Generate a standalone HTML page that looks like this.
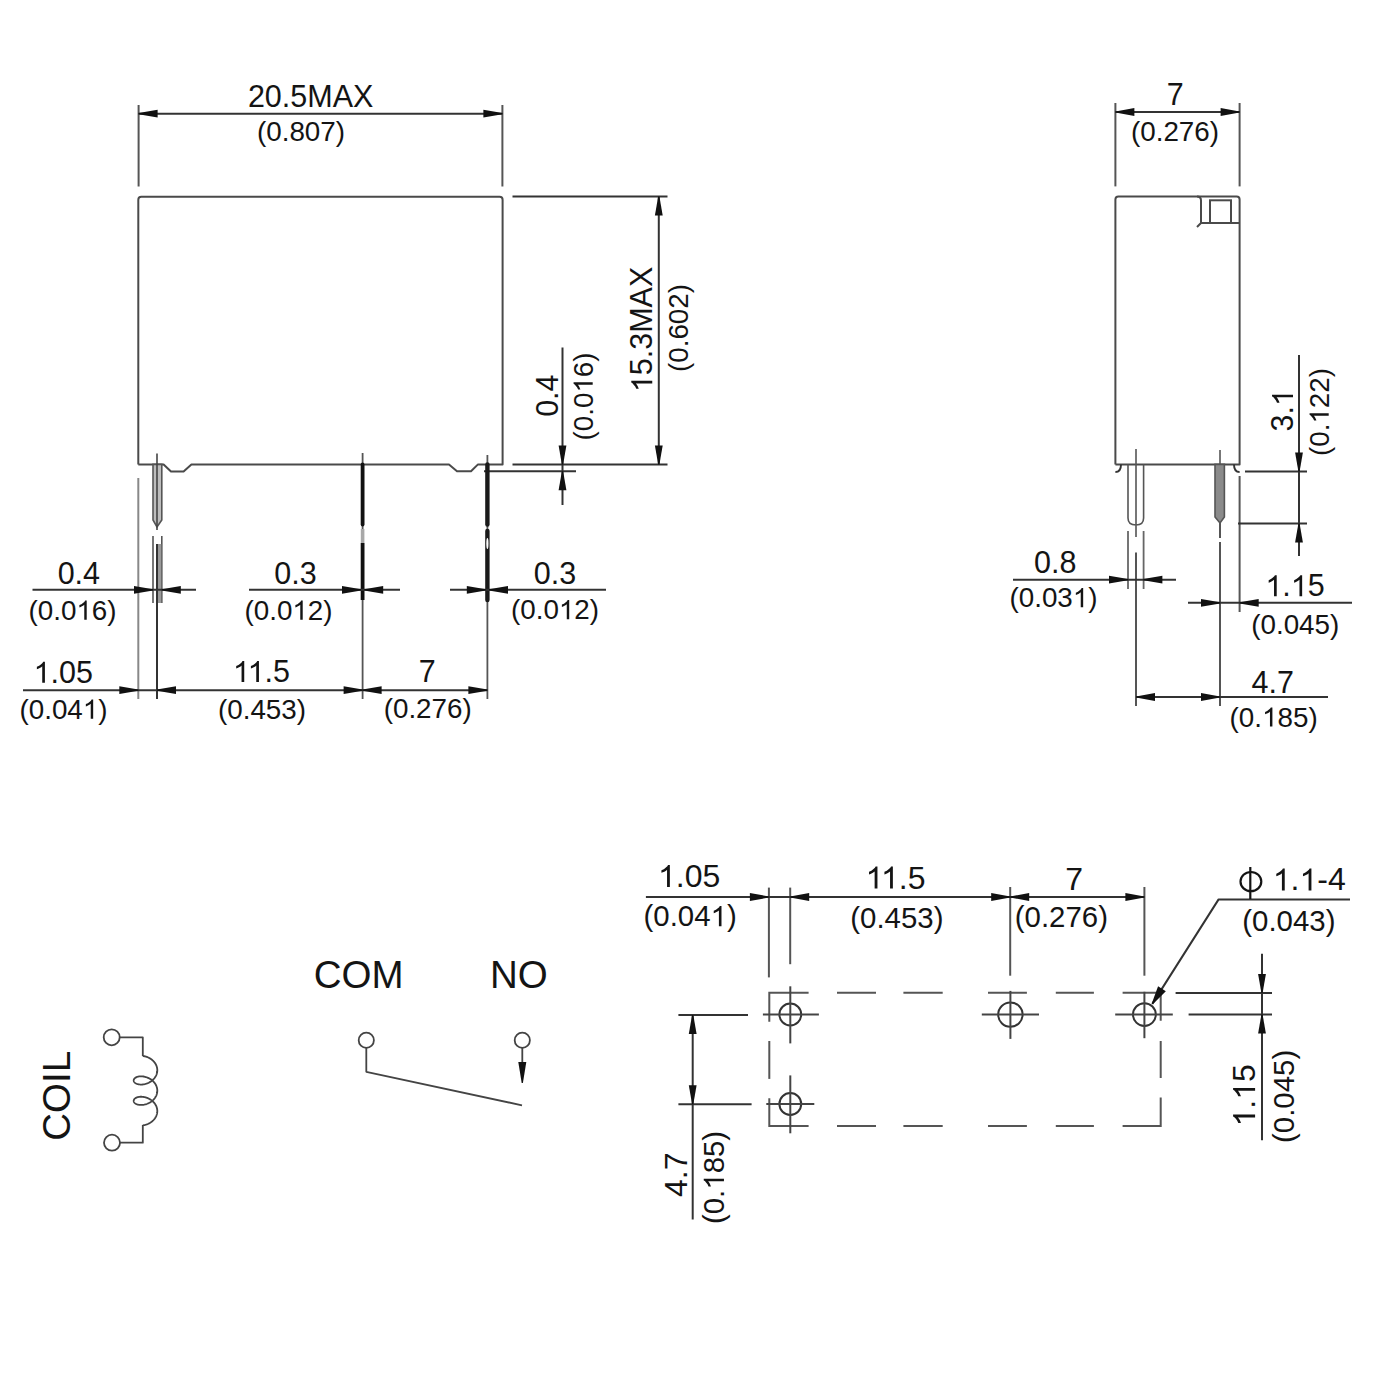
<!DOCTYPE html>
<html><head><meta charset="utf-8"><style>
html,body{margin:0;padding:0;background:#fff;}
svg{display:block;}
text{font-family:"Liberation Sans",sans-serif;fill:#141414;}
</style></head><body>
<svg width="1400" height="1400" viewBox="0 0 1400 1400">
<rect width="1400" height="1400" fill="#fff"/>
<path d="M138.3 464.4 L138.3 199.8 Q138.3 196.8 141.3 196.8 L499.6 196.8 Q502.6 196.8 502.6 199.8 L502.6 464.4 L478 464.4 L471 471.2 L457 471.2 L449 464.4 L191.4 464.4 L183.6 471.4 L171 471.4 L163.6 464.4 L138.3 464.4" stroke="#4a4a4a" stroke-width="2" fill="none" stroke-linejoin="round"/>
<line x1="138.6" y1="105" x2="138.6" y2="186.5" stroke="#555" stroke-width="2"/>
<line x1="502.4" y1="105" x2="502.4" y2="186.5" stroke="#555" stroke-width="2"/>
<line x1="138.6" y1="113.7" x2="502.4" y2="113.7" stroke="#333" stroke-width="2"/>
<path d="M138.6 113.1 L157.6 109.8 L157.6 117.6 L138.6 114.3 Z" fill="#111"/>
<path d="M502.4 114.3 L483.4 117.6 L483.4 109.8 L502.4 113.1 Z" fill="#111"/>
<line x1="512.5" y1="196.4" x2="667.5" y2="196.4" stroke="#333" stroke-width="2"/>
<line x1="512.5" y1="464.5" x2="667.5" y2="464.5" stroke="#333" stroke-width="2"/>
<line x1="658.8" y1="196.4" x2="658.8" y2="464.5" stroke="#333" stroke-width="2"/>
<path d="M659.4 196.4 L662.7 215.4 L654.9 215.4 L658.2 196.4 Z" fill="#111"/>
<path d="M658.2 464.5 L654.9 445.5 L662.7 445.5 L659.4 464.5 Z" fill="#111"/>
<line x1="484" y1="471.2" x2="576" y2="471.2" stroke="#333" stroke-width="2"/>
<line x1="562.5" y1="347.5" x2="562.5" y2="505" stroke="#333" stroke-width="2"/>
<path d="M561.9 464.5 L558.6 445.5 L566.4 445.5 L563.1 464.5 Z" fill="#111"/>
<path d="M563.1 471.2 L566.4 490.2 L558.6 490.2 L561.9 471.2 Z" fill="#111"/>
<path d="M153 464.4 L153 520 L157 527 L161.8 520 L161.8 464.4 Z" fill="#bdbdbd" stroke="#555" stroke-width="1.6"/>
<line x1="157" y1="453.6" x2="157" y2="530" stroke="#444" stroke-width="1.6"/>
<line x1="153" y1="536" x2="153" y2="603" stroke="#555" stroke-width="1.6"/>
<line x1="161.8" y1="536" x2="161.8" y2="603" stroke="#555" stroke-width="1.6"/>
<rect x="157" y="544" width="4.3" height="59" fill="#9a9a9a"/>
<line x1="157" y1="544" x2="157" y2="699" stroke="#333" stroke-width="2"/>
<line x1="138.3" y1="478" x2="138.3" y2="699" stroke="#888" stroke-width="2"/>
<line x1="362.6" y1="453" x2="362.6" y2="699" stroke="#555" stroke-width="1.8"/>
<line x1="362.6" y1="464.4" x2="362.6" y2="524.5" stroke="#111" stroke-width="3.8" stroke-linecap="round"/>
<line x1="362.6" y1="529" x2="362.6" y2="543" stroke="#a8a8a8" stroke-width="3.6"/>
<line x1="362.6" y1="543" x2="362.6" y2="600" stroke="#111" stroke-width="3.8"/>
<line x1="487.4" y1="455" x2="487.4" y2="699" stroke="#555" stroke-width="1.8"/>
<line x1="487.4" y1="464.4" x2="487.4" y2="524.5" stroke="#1a1a1a" stroke-width="4.4" stroke-linecap="round"/>
<line x1="487.4" y1="531" x2="487.4" y2="600" stroke="#1a1a1a" stroke-width="4.4" stroke-linecap="round"/>
<ellipse cx="487.4" cy="543.5" rx="1.1" ry="5.5" fill="#fff"/>
<line x1="32.5" y1="589.8" x2="196" y2="589.8" stroke="#333" stroke-width="2"/>
<path d="M153 590.4 L134 593.7 L134 585.9 L153 589.2 Z" fill="#111"/>
<path d="M161.8 589.2 L180.8 585.9 L180.8 593.7 L161.8 590.4 Z" fill="#111"/>
<line x1="249" y1="589.8" x2="400" y2="589.8" stroke="#333" stroke-width="2"/>
<path d="M361 590.4 L342 593.7 L342 585.9 L361 589.2 Z" fill="#111"/>
<path d="M364.2 589.2 L383.2 585.9 L383.2 593.7 L364.2 590.4 Z" fill="#111"/>
<line x1="450" y1="589.8" x2="606" y2="589.8" stroke="#333" stroke-width="2"/>
<path d="M485.8 590.4 L466.8 593.7 L466.8 585.9 L485.8 589.2 Z" fill="#111"/>
<path d="M489 589.2 L508 585.9 L508 593.7 L489 590.4 Z" fill="#111"/>
<line x1="23" y1="690.2" x2="487.4" y2="690.2" stroke="#333" stroke-width="2"/>
<path d="M138.3 690.8 L119.3 694.1 L119.3 686.3 L138.3 689.6 Z" fill="#111"/>
<path d="M157 689.6 L176 686.3 L176 694.1 L157 690.8 Z" fill="#111"/>
<path d="M362.6 690.8 L343.6 694.1 L343.6 686.3 L362.6 689.6 Z" fill="#111"/>
<path d="M362.6 689.6 L381.6 686.3 L381.6 694.1 L362.6 690.8 Z" fill="#111"/>
<path d="M487.4 690.8 L468.4 694.1 L468.4 686.3 L487.4 689.6 Z" fill="#111"/>
<path d="M1115.4 464.4 L1115.4 199.6 Q1115.4 196.6 1118.4 196.6 L1236.6 196.6 Q1239.6 196.6 1239.6 199.6 L1239.6 464.4 L1115.4 464.4" stroke="#4a4a4a" stroke-width="2" fill="none" stroke-linejoin="round"/>
<path d="M1197 196.6 Q1201 196.6 1201 200.6 L1201 223 L1197 227" stroke="#4a4a4a" stroke-width="2" fill="none" stroke-linejoin="round"/>
<line x1="1201" y1="223" x2="1239.6" y2="223" stroke="#4a4a4a" stroke-width="2"/>
<rect x="1210" y="200.3" width="21" height="22.7" stroke="#4a4a4a" stroke-width="2" fill="none"/>
<path d="M1121 464.4 Q1121 472 1115.4 472" stroke="#333" stroke-width="1.9" fill="none"/>
<path d="M1234 464.4 Q1234 472 1239.6 472" stroke="#333" stroke-width="1.9" fill="none"/>
<line x1="1115.4" y1="103" x2="1115.4" y2="186.4" stroke="#555" stroke-width="2"/>
<line x1="1239.6" y1="103" x2="1239.6" y2="186.4" stroke="#555" stroke-width="2"/>
<line x1="1115.4" y1="112" x2="1239.6" y2="112" stroke="#333" stroke-width="2"/>
<path d="M1115.4 111.4 L1134.4 108.1 L1134.4 115.9 L1115.4 112.6 Z" fill="#111"/>
<path d="M1239.6 112.6 L1220.6 115.9 L1220.6 108.1 L1239.6 111.4 Z" fill="#111"/>
<path d="M1128 464.4 L1128 518 Q1128 525 1136 525 Q1143.6 525 1143.6 518 L1143.6 464.4" stroke="#555" stroke-width="1.6" fill="none"/>
<line x1="1136" y1="449" x2="1136" y2="525" stroke="#555" stroke-width="1.6"/>
<line x1="1128" y1="531" x2="1128" y2="589" stroke="#666" stroke-width="1.8"/>
<line x1="1143.6" y1="531" x2="1143.6" y2="589" stroke="#666" stroke-width="1.8"/>
<line x1="1136" y1="525" x2="1136" y2="537" stroke="#666" stroke-width="1.8"/>
<line x1="1136" y1="552.6" x2="1136" y2="706" stroke="#555" stroke-width="2"/>
<path d="M1215 464.4 L1215 517 L1220 523 L1224.4 517 L1224.4 464.4 Z" fill="#8a8a8a" stroke="#555" stroke-width="1.6"/>
<line x1="1220" y1="450" x2="1220" y2="464" stroke="#555" stroke-width="1.6"/>
<line x1="1220" y1="523" x2="1220" y2="538" stroke="#555" stroke-width="2"/>
<line x1="1220" y1="542" x2="1220" y2="706" stroke="#555" stroke-width="2"/>
<line x1="1239.6" y1="476" x2="1239.6" y2="612" stroke="#555" stroke-width="2"/>
<line x1="1245" y1="471.4" x2="1307" y2="471.4" stroke="#333" stroke-width="2"/>
<line x1="1238" y1="523.6" x2="1307" y2="523.6" stroke="#333" stroke-width="2"/>
<line x1="1299" y1="355" x2="1299" y2="556" stroke="#333" stroke-width="2"/>
<path d="M1298.4 471.4 L1295.1 452.4 L1302.9 452.4 L1299.6 471.4 Z" fill="#111"/>
<path d="M1299.6 523.6 L1302.9 542.6 L1295.1 542.6 L1298.4 523.6 Z" fill="#111"/>
<line x1="1013" y1="579.7" x2="1176" y2="579.7" stroke="#333" stroke-width="2"/>
<path d="M1128 580.3 L1109 583.6 L1109 575.8 L1128 579.1 Z" fill="#111"/>
<path d="M1143.4 579.1 L1162.4 575.8 L1162.4 583.6 L1143.4 580.3 Z" fill="#111"/>
<line x1="1188" y1="602.8" x2="1352" y2="602.8" stroke="#333" stroke-width="2"/>
<path d="M1220 603.4 L1201 606.7 L1201 598.9 L1220 602.2 Z" fill="#111"/>
<path d="M1239.7 602.2 L1258.7 598.9 L1258.7 606.7 L1239.7 603.4 Z" fill="#111"/>
<line x1="1136" y1="697" x2="1328" y2="697" stroke="#333" stroke-width="2"/>
<path d="M1136 696.4 L1155 693.1 L1155 700.9 L1136 697.6 Z" fill="#111"/>
<path d="M1220 697.6 L1201 700.9 L1201 693.1 L1220 696.4 Z" fill="#111"/>
<circle cx="111.7" cy="1037.3" r="8" stroke="#444" stroke-width="1.8" fill="none"/>
<circle cx="112" cy="1142.7" r="8" stroke="#444" stroke-width="1.8" fill="none"/>
<path d="M119.7 1037.3 L142.8 1037.3 L142.8 1056" stroke="#444" stroke-width="1.8" fill="none" stroke-linejoin="round"/>
<path d="M120 1142.7 L142.8 1142.7 L142.8 1125" stroke="#444" stroke-width="1.8" fill="none" stroke-linejoin="round"/>
<path d="M142.8 1056 L143.58 1056.11 L144.37 1056.25 L145.16 1056.43 L145.96 1056.65 L146.75 1056.91 L147.54 1057.21 L148.31 1057.55 L149.08 1057.93 L149.83 1058.34 L150.56 1058.79 L151.26 1059.28 L151.94 1059.79 L152.59 1060.35 L153.21 1060.93 L153.8 1061.54 L154.34 1062.18 L154.85 1062.85 L155.31 1063.54 L155.73 1064.25 L156.1 1064.98 L156.43 1065.73 L156.7 1066.49 L156.93 1067.26 L157.1 1068.05 L157.22 1068.84 L157.29 1069.64 L157.3 1070.43 L157.26 1071.23 L157.16 1072.03 L157.02 1072.81 L156.82 1073.59 L156.57 1074.36 L156.27 1075.12 L155.92 1075.86 L155.52 1076.58 L155.08 1077.28 L154.59 1077.96 L154.06 1078.61 L153.5 1079.23 L152.9 1079.83 L152.26 1080.4 L151.59 1080.93 L150.9 1081.43 L150.18 1081.9 L149.44 1082.33 L148.68 1082.73 L147.91 1083.08 L147.13 1083.4 L146.34 1083.68 L145.54 1083.92 L144.75 1084.12 L143.96 1084.28 L143.17 1084.41 L142.4 1084.49 L141.64 1084.54 L140.9 1084.55 L140.18 1084.53 L139.48 1084.47 L138.81 1084.38 L138.17 1084.25 L137.57 1084.09 L137 1083.91 L136.47 1083.7 L135.97 1083.46 L135.53 1083.2 L135.13 1082.92 L134.77 1082.62 L134.46 1082.31 L134.21 1081.98 L134 1081.64 L133.85 1081.29 L133.75 1080.93 L133.7 1080.57 L133.71 1080.21 L133.77 1079.85 L133.88 1079.5 L134.05 1079.15 L134.27 1078.81 L134.54 1078.49 L134.86 1078.17 L135.22 1077.88 L135.64 1077.6 L136.1 1077.35 L136.6 1077.12 L137.14 1076.91 L137.72 1076.74 L138.34 1076.59 L138.98 1076.47 L139.66 1076.39 L140.36 1076.34 L141.09 1076.32 L141.84 1076.34 L142.6 1076.4 L143.38 1076.49 L144.16 1076.63 L144.96 1076.8 L145.75 1077.01 L146.54 1077.26 L147.33 1077.55 L148.11 1077.88 L148.88 1078.25 L149.64 1078.65 L150.37 1079.09 L151.08 1079.57 L151.77 1080.08 L152.43 1080.62 L153.06 1081.2 L153.65 1081.8 L154.21 1082.43 L154.72 1083.09 L155.2 1083.78 L155.63 1084.48 L156.01 1085.21 L156.35 1085.95 L156.64 1086.71 L156.87 1087.48 L157.06 1088.26 L157.19 1089.05 L157.27 1089.85 L157.3 1090.65 L157.27 1091.45 L157.19 1092.24 L157.06 1093.03 L156.87 1093.81 L156.64 1094.58 L156.35 1095.34 L156.01 1096.09 L155.63 1096.81 L155.2 1097.52 L154.72 1098.2 L154.21 1098.86 L153.65 1099.5 L153.06 1100.1 L152.43 1100.67 L151.77 1101.22 L151.08 1101.73 L150.37 1102.2 L149.64 1102.64 L148.88 1103.05 L148.11 1103.41 L147.33 1103.74 L146.54 1104.03 L145.75 1104.28 L144.96 1104.49 L144.16 1104.67 L143.38 1104.8 L142.6 1104.9 L141.84 1104.95 L141.09 1104.97 L140.36 1104.96 L139.66 1104.91 L138.98 1104.82 L138.34 1104.71 L137.72 1104.56 L137.14 1104.38 L136.6 1104.18 L136.1 1103.95 L135.64 1103.69 L135.22 1103.42 L134.86 1103.12 L134.54 1102.81 L134.27 1102.48 L134.05 1102.15 L133.88 1101.8 L133.77 1101.44 L133.71 1101.08 L133.7 1100.72 L133.75 1100.36 L133.85 1100.01 L134 1099.66 L134.21 1099.32 L134.46 1098.99 L134.77 1098.67 L135.13 1098.37 L135.53 1098.09 L135.97 1097.83 L136.47 1097.6 L137 1097.38 L137.57 1097.2 L138.17 1097.04 L138.81 1096.92 L139.48 1096.83 L140.18 1096.77 L140.9 1096.74 L141.64 1096.75 L142.4 1096.8 L143.17 1096.89 L143.96 1097.01 L144.75 1097.17 L145.54 1097.38 L146.34 1097.62 L147.13 1097.9 L147.91 1098.21 L148.68 1098.57 L149.44 1098.96 L150.18 1099.39 L150.9 1099.86 L151.59 1100.36 L152.26 1100.9 L152.9 1101.46 L153.5 1102.06 L154.06 1102.69 L154.59 1103.34 L155.08 1104.02 L155.52 1104.72 L155.92 1105.44 L156.27 1106.18 L156.57 1106.93 L156.82 1107.7 L157.02 1108.48 L157.16 1109.27 L157.26 1110.06 L157.3 1110.86 L157.29 1111.66 L157.22 1112.46 L157.1 1113.25 L156.93 1114.03 L156.7 1114.81 L156.43 1115.57 L156.1 1116.32 L155.73 1117.05 L155.31 1117.76 L154.85 1118.45 L154.34 1119.11 L153.8 1119.75 L153.21 1120.37 L152.59 1120.95 L151.94 1121.5 L151.26 1122.02 L150.56 1122.5 L149.83 1122.95 L149.08 1123.37 L148.31 1123.74 L147.54 1124.08 L146.75 1124.38 L145.96 1124.64 L145.16 1124.86 L144.37 1125.05 L143.58 1125.19 L142.8 1125.3" stroke="#444" stroke-width="1.8" fill="none" stroke-linejoin="round"/>
<circle cx="366.3" cy="1040.3" r="7.6" stroke="#444" stroke-width="1.8" fill="none"/>
<circle cx="522.3" cy="1040.3" r="7.6" stroke="#444" stroke-width="1.8" fill="none"/>
<path d="M366.3 1048 L366.3 1071.8 L522 1105.3" stroke="#444" stroke-width="1.8" fill="none" stroke-linejoin="round"/>
<line x1="522.3" y1="1048" x2="522.3" y2="1066" stroke="#444" stroke-width="1.8"/>
<path d="M521.7 1083 L518.3 1062 L526.3 1062 L522.9 1083 Z" fill="#111"/>
<path d="M769.3 1021.7 L769.3 992.8 L808.6 992.8" stroke="#555" stroke-width="2" fill="none" stroke-linejoin="miter" stroke-linecap="butt"/>
<path d="M1122.6 992.8 L1160.7 992.8 L1160.7 1020.8" stroke="#555" stroke-width="2" fill="none" stroke-linejoin="miter" stroke-linecap="butt"/>
<path d="M769.3 1098.3 L769.3 1126 L808.6 1126" stroke="#555" stroke-width="2" fill="none" stroke-linejoin="miter" stroke-linecap="butt"/>
<path d="M1122.6 1126 L1160.7 1126 L1160.7 1097.6" stroke="#555" stroke-width="2" fill="none" stroke-linejoin="miter" stroke-linecap="butt"/>
<line x1="837" y1="992.8" x2="876" y2="992.8" stroke="#555" stroke-width="2"/>
<line x1="903.4" y1="992.8" x2="942.7" y2="992.8" stroke="#555" stroke-width="2"/>
<line x1="988" y1="992.8" x2="1026.9" y2="992.8" stroke="#555" stroke-width="2"/>
<line x1="1055.8" y1="992.8" x2="1093.9" y2="992.8" stroke="#555" stroke-width="2"/>
<line x1="837" y1="1126" x2="876" y2="1126" stroke="#555" stroke-width="2"/>
<line x1="903.4" y1="1126" x2="942.7" y2="1126" stroke="#555" stroke-width="2"/>
<line x1="988" y1="1126" x2="1026.9" y2="1126" stroke="#555" stroke-width="2"/>
<line x1="1055.8" y1="1126" x2="1093.9" y2="1126" stroke="#555" stroke-width="2"/>
<line x1="769.3" y1="1041" x2="769.3" y2="1078.9" stroke="#555" stroke-width="2"/>
<line x1="1160.7" y1="1041" x2="1160.7" y2="1078" stroke="#555" stroke-width="2"/>
<circle cx="790.3" cy="1014.5" r="10.9" stroke="#333" stroke-width="2" fill="none"/>
<line x1="762.9" y1="1014.5" x2="818.9" y2="1014.5" stroke="#444" stroke-width="2"/>
<line x1="790.3" y1="986.3" x2="790.3" y2="1043.4" stroke="#444" stroke-width="2"/>
<circle cx="1010.4" cy="1014.6" r="12.2" stroke="#333" stroke-width="2" fill="none"/>
<line x1="981.8" y1="1014.6" x2="1039" y2="1014.6" stroke="#444" stroke-width="2"/>
<line x1="1010.4" y1="990.9" x2="1010.4" y2="1038.9" stroke="#444" stroke-width="2"/>
<circle cx="1144.4" cy="1014.6" r="11.4" stroke="#333" stroke-width="2" fill="none"/>
<line x1="1115.2" y1="1014.6" x2="1172.8" y2="1014.6" stroke="#444" stroke-width="2"/>
<line x1="1144.4" y1="991.8" x2="1144.4" y2="1038.2" stroke="#444" stroke-width="2"/>
<circle cx="790.3" cy="1104" r="10.9" stroke="#333" stroke-width="2" fill="none"/>
<line x1="766.3" y1="1104" x2="814.3" y2="1104" stroke="#444" stroke-width="2"/>
<line x1="790.3" y1="1075.4" x2="790.3" y2="1133.3" stroke="#444" stroke-width="2"/>
<line x1="768.9" y1="887.6" x2="768.9" y2="977.4" stroke="#555" stroke-width="2"/>
<line x1="790.2" y1="887.6" x2="790.2" y2="964.2" stroke="#555" stroke-width="2"/>
<line x1="1010.2" y1="887" x2="1010.2" y2="975.7" stroke="#555" stroke-width="2"/>
<line x1="1144.4" y1="887" x2="1144.4" y2="975.7" stroke="#555" stroke-width="2"/>
<line x1="645.9" y1="897" x2="1144.4" y2="897" stroke="#333" stroke-width="2"/>
<path d="M768.9 897.6 L749.9 900.9 L749.9 893.1 L768.9 896.4 Z" fill="#111"/>
<path d="M790.2 896.4 L809.2 893.1 L809.2 900.9 L790.2 897.6 Z" fill="#111"/>
<path d="M1010.2 897.6 L991.2 900.9 L991.2 893.1 L1010.2 896.4 Z" fill="#111"/>
<path d="M1010.2 896.4 L1029.2 893.1 L1029.2 900.9 L1010.2 897.6 Z" fill="#111"/>
<path d="M1144.4 897.6 L1125.4 900.9 L1125.4 893.1 L1144.4 896.4 Z" fill="#111"/>
<path d="M1152.3 1003.9 L1218.6 899.4 L1350 899.4" stroke="#333" stroke-width="2" fill="none" stroke-linejoin="round"/>
<path d="M1151.79 1003.58 L1158.06 986.24 L1165.83 991.17 L1152.81 1004.22 Z" fill="#111"/>
<ellipse cx="1250.9" cy="881.6" rx="10.4" ry="9.6" stroke="#141414" stroke-width="2.2" fill="none"/>
<line x1="1250.3" y1="867" x2="1250.3" y2="899" stroke="#141414" stroke-width="2.2"/>
<line x1="1175.6" y1="993.1" x2="1272" y2="993.1" stroke="#333" stroke-width="2"/>
<line x1="1188.6" y1="1014.6" x2="1272" y2="1014.6" stroke="#333" stroke-width="2"/>
<line x1="1262" y1="953.7" x2="1262" y2="1140.3" stroke="#333" stroke-width="2"/>
<path d="M1261.4 993.1 L1258.1 974.1 L1265.9 974.1 L1262.6 993.1 Z" fill="#111"/>
<path d="M1262.6 1014.6 L1265.9 1033.6 L1258.1 1033.6 L1261.4 1014.6 Z" fill="#111"/>
<line x1="678.4" y1="1015" x2="748" y2="1015" stroke="#333" stroke-width="2"/>
<line x1="678.4" y1="1104.3" x2="751.6" y2="1104.3" stroke="#333" stroke-width="2"/>
<line x1="692.7" y1="1015" x2="692.7" y2="1219.5" stroke="#333" stroke-width="2"/>
<path d="M693.3 1015 L696.6 1034 L688.8 1034 L692.1 1015 Z" fill="#111"/>
<path d="M692.1 1104.3 L688.8 1085.3 L696.6 1085.3 L693.3 1104.3 Z" fill="#111"/>
<g transform="translate(247.88 107.35)"><text x="0 16.96 33.93 42.4 59.36 84.77 105.11" y="0" font-size="30.5" xml:space="preserve">20.5MAX</text></g>
<g transform="translate(256.96 140.69)"><text x="0 9.26 24.72 32.44 47.9 63.36 78.83" y="0" font-size="27.8" xml:space="preserve">(0.807)</text></g>
<g transform="translate(652.25 392.19) rotate(-90)"><text x="0 16.96 33.93 42.4 59.36 84.77 105.11" y="0" font-size="30.5" xml:space="preserve"> 5.3MAX</text><path transform="translate(0 0) scale(0.01489 -0.01489)" d="M763 0 L583 0 L583 1102 L518 1043 L412 983 L314 939 L223 906 L223 1074 L375 1143 L489 1233 L600 1329 L646 1409 L763 1409 Z" fill="#141414"/></g>
<g transform="translate(688.44 372.04) rotate(-90)"><text x="0 9.26 24.72 32.44 47.9 63.36 78.83" y="0" font-size="27.8" xml:space="preserve">(0.602)</text></g>
<g transform="translate(558 416.85) rotate(-90)"><text x="0 16.96 25.44" y="0" font-size="30.5" xml:space="preserve">0.4</text></g>
<g transform="translate(592.69 440.54) rotate(-90)"><text x="0 9.26 24.72 32.44 47.9 63.36 78.83" y="0" font-size="27.8" xml:space="preserve">(0.0 6)</text><path transform="translate(47.9 0) scale(0.01357 -0.01357)" d="M763 0 L583 0 L583 1102 L518 1043 L412 983 L314 939 L223 906 L223 1074 L375 1143 L489 1233 L600 1329 L646 1409 L763 1409 Z" fill="#141414"/></g>
<g transform="translate(57.65 584)"><text x="0 16.96 25.44" y="0" font-size="30.5" xml:space="preserve">0.4</text></g>
<g transform="translate(28.46 619.69)"><text x="0 9.26 24.72 32.44 47.9 63.36 78.83" y="0" font-size="27.8" xml:space="preserve">(0.0 6)</text><path transform="translate(47.9 0) scale(0.01357 -0.01357)" d="M763 0 L583 0 L583 1102 L518 1043 L412 983 L314 939 L223 906 L223 1074 L375 1143 L489 1233 L600 1329 L646 1409 L763 1409 Z" fill="#141414"/></g>
<g transform="translate(274.37 584)"><text x="0 16.96 25.44" y="0" font-size="30.5" xml:space="preserve">0.3</text></g>
<g transform="translate(244.46 619.69)"><text x="0 9.26 24.72 32.44 47.9 63.36 78.83" y="0" font-size="27.8" xml:space="preserve">(0.0 2)</text><path transform="translate(47.9 0) scale(0.01357 -0.01357)" d="M763 0 L583 0 L583 1102 L518 1043 L412 983 L314 939 L223 906 L223 1074 L375 1143 L489 1233 L600 1329 L646 1409 L763 1409 Z" fill="#141414"/></g>
<g transform="translate(533.87 584)"><text x="0 16.96 25.44" y="0" font-size="30.5" xml:space="preserve">0.3</text></g>
<g transform="translate(510.96 619.19)"><text x="0 9.26 24.72 32.44 47.9 63.36 78.83" y="0" font-size="27.8" xml:space="preserve">(0.0 2)</text><path transform="translate(47.9 0) scale(0.01357 -0.01357)" d="M763 0 L583 0 L583 1102 L518 1043 L412 983 L314 939 L223 906 L223 1074 L375 1143 L489 1233 L600 1329 L646 1409 L763 1409 Z" fill="#141414"/></g>
<g transform="translate(33.55 682.75)"><text x="0 16.96 25.44 42.4" y="0" font-size="30.5" xml:space="preserve"> .05</text><path transform="translate(0 0) scale(0.01489 -0.01489)" d="M763 0 L583 0 L583 1102 L518 1043 L412 983 L314 939 L223 906 L223 1074 L375 1143 L489 1233 L600 1329 L646 1409 L763 1409 Z" fill="#141414"/></g>
<g transform="translate(19.46 718.69)"><text x="0 9.26 24.72 32.44 47.9 63.36 78.83" y="0" font-size="27.8" xml:space="preserve">(0.04 )</text><path transform="translate(63.36 0) scale(0.01357 -0.01357)" d="M763 0 L583 0 L583 1102 L518 1043 L412 983 L314 939 L223 906 L223 1074 L375 1143 L489 1233 L600 1329 L646 1409 L763 1409 Z" fill="#141414"/></g>
<g transform="translate(232.88 681.99)"><text x="0 14.7 31.66 40.14" y="0" font-size="30.5" xml:space="preserve">  .5</text><path transform="translate(0 0) scale(0.01489 -0.01489)" d="M763 0 L583 0 L583 1102 L518 1043 L412 983 L314 939 L223 906 L223 1074 L375 1143 L489 1233 L600 1329 L646 1409 L763 1409 Z" fill="#141414"/><path transform="translate(14.7 0) scale(0.01489 -0.01489)" d="M763 0 L583 0 L583 1102 L518 1043 L412 983 L314 939 L223 906 L223 1074 L375 1143 L489 1233 L600 1329 L646 1409 L763 1409 Z" fill="#141414"/></g>
<g transform="translate(217.96 718.69)"><text x="0 9.26 24.72 32.44 47.9 63.36 78.83" y="0" font-size="27.8" xml:space="preserve">(0.453)</text></g>
<g transform="translate(418.65 682.19)"><text x="0" y="0" font-size="30.5" xml:space="preserve">7</text></g>
<g transform="translate(383.66 718.34)"><text x="0 9.26 24.72 32.44 47.9 63.36 78.83" y="0" font-size="27.8" xml:space="preserve">(0.276)</text></g>
<g transform="translate(1166.7 105.29)"><text x="0" y="0" font-size="30.5" xml:space="preserve">7</text></g>
<g transform="translate(1130.96 140.54)"><text x="0 9.26 24.72 32.44 47.9 63.36 78.83" y="0" font-size="27.8" xml:space="preserve">(0.276)</text></g>
<g transform="translate(1293 431.48) rotate(-90)"><text x="0 16.96 25.44" y="0" font-size="30.5" xml:space="preserve">3. </text><path transform="translate(25.44 0) scale(0.01489 -0.01489)" d="M763 0 L583 0 L583 1102 L518 1043 L412 983 L314 939 L223 906 L223 1074 L375 1143 L489 1233 L600 1329 L646 1409 L763 1409 Z" fill="#141414"/></g>
<g transform="translate(1328.69 456.04) rotate(-90)"><text x="0 9.26 24.72 32.44 47.9 63.36 78.83" y="0" font-size="27.8" xml:space="preserve">(0. 22)</text><path transform="translate(32.44 0) scale(0.01357 -0.01357)" d="M763 0 L583 0 L583 1102 L518 1043 L412 983 L314 939 L223 906 L223 1074 L375 1143 L489 1233 L600 1329 L646 1409 L763 1409 Z" fill="#141414"/></g>
<g transform="translate(1034.02 573.3)"><text x="0 16.96 25.44" y="0" font-size="30.5" xml:space="preserve">0.8</text></g>
<g transform="translate(1009.46 607.24)"><text x="0 9.26 24.72 32.44 47.9 63.36 78.83" y="0" font-size="27.8" xml:space="preserve">(0.03 )</text><path transform="translate(63.36 0) scale(0.01357 -0.01357)" d="M763 0 L583 0 L583 1102 L518 1043 L412 983 L314 939 L223 906 L223 1074 L375 1143 L489 1233 L600 1329 L646 1409 L763 1409 Z" fill="#141414"/></g>
<g transform="translate(1265.35 596.14)"><text x="0 16.96 25.44 42.4" y="0" font-size="30.5" xml:space="preserve"> . 5</text><path transform="translate(0 0) scale(0.01489 -0.01489)" d="M763 0 L583 0 L583 1102 L518 1043 L412 983 L314 939 L223 906 L223 1074 L375 1143 L489 1233 L600 1329 L646 1409 L763 1409 Z" fill="#141414"/><path transform="translate(25.44 0) scale(0.01489 -0.01489)" d="M763 0 L583 0 L583 1102 L518 1043 L412 983 L314 939 L223 906 L223 1074 L375 1143 L489 1233 L600 1329 L646 1409 L763 1409 Z" fill="#141414"/></g>
<g transform="translate(1251.21 633.69)"><text x="0 9.26 24.72 32.44 47.9 63.36 78.83" y="0" font-size="27.8" xml:space="preserve">(0.045)</text></g>
<g transform="translate(1251.57 692.99)"><text x="0 16.96 25.44" y="0" font-size="30.5" xml:space="preserve">4.7</text></g>
<g transform="translate(1229.61 726.54)"><text x="0 9.26 24.72 32.44 47.9 63.36 78.83" y="0" font-size="27.8" xml:space="preserve">(0. 85)</text><path transform="translate(32.44 0) scale(0.01357 -0.01357)" d="M763 0 L583 0 L583 1102 L518 1043 L412 983 L314 939 L223 906 L223 1074 L375 1143 L489 1233 L600 1329 L646 1409 L763 1409 Z" fill="#141414"/></g>
<g transform="translate(70.2 1140.72) rotate(-90)"><text x="0 27.8 57.75 68.45" y="0" font-size="38.5" xml:space="preserve">COIL</text></g>
<g transform="translate(313.74 988.3)"><text x="0 27.8 57.75" y="0" font-size="38.5" xml:space="preserve">COM</text></g>
<g transform="translate(489.97 988.3)"><text x="0 27.8" y="0" font-size="38.5" xml:space="preserve">NO</text></g>
<g transform="translate(657.94 887.02)"><text x="0 17.8 26.69 44.48" y="0" font-size="32" xml:space="preserve"> .05</text><path transform="translate(0 0) scale(0.01562 -0.01562)" d="M763 0 L583 0 L583 1102 L518 1043 L412 983 L314 939 L223 906 L223 1074 L375 1143 L489 1233 L600 1329 L646 1409 L763 1409 Z" fill="#141414"/></g>
<g transform="translate(643.52 926.21)"><text x="0 9.79 26.14 34.31 50.66 67.01 83.36" y="0" font-size="29.4" xml:space="preserve">(0.04 )</text><path transform="translate(67.01 0) scale(0.01436 -0.01436)" d="M763 0 L583 0 L583 1102 L518 1043 L412 983 L314 939 L223 906 L223 1074 L375 1143 L489 1233 L600 1329 L646 1409 L763 1409 Z" fill="#141414"/></g>
<g transform="translate(865.53 888.6)"><text x="0 15.42 33.22 42.11" y="0" font-size="32" xml:space="preserve">  .5</text><path transform="translate(0 0) scale(0.01562 -0.01562)" d="M763 0 L583 0 L583 1102 L518 1043 L412 983 L314 939 L223 906 L223 1074 L375 1143 L489 1233 L600 1329 L646 1409 L763 1409 Z" fill="#141414"/><path transform="translate(15.42 0) scale(0.01562 -0.01562)" d="M763 0 L583 0 L583 1102 L518 1043 L412 983 L314 939 L223 906 L223 1074 L375 1143 L489 1233 L600 1329 L646 1409 L763 1409 Z" fill="#141414"/></g>
<g transform="translate(850.32 928.21)"><text x="0 9.79 26.14 34.31 50.66 67.01 83.36" y="0" font-size="29.4" xml:space="preserve">(0.453)</text></g>
<g transform="translate(1065.29 890.31)"><text x="0" y="0" font-size="32" xml:space="preserve">7</text></g>
<g transform="translate(1014.77 926.91)"><text x="0 9.79 26.14 34.31 50.66 67.01 83.36" y="0" font-size="29.4" xml:space="preserve">(0.276)</text></g>
<g transform="translate(1272.81 890.46)"><text x="0 17.8 26.69 44.48 55.14" y="0" font-size="32" xml:space="preserve"> . -4</text><path transform="translate(0 0) scale(0.01562 -0.01562)" d="M763 0 L583 0 L583 1102 L518 1043 L412 983 L314 939 L223 906 L223 1074 L375 1143 L489 1233 L600 1329 L646 1409 L763 1409 Z" fill="#141414"/><path transform="translate(26.69 0) scale(0.01562 -0.01562)" d="M763 0 L583 0 L583 1102 L518 1043 L412 983 L314 939 L223 906 L223 1074 L375 1143 L489 1233 L600 1329 L646 1409 L763 1409 Z" fill="#141414"/></g>
<g transform="translate(1242.27 930.91)"><text x="0 9.79 26.14 34.31 50.66 67.01 83.36" y="0" font-size="29.4" xml:space="preserve">(0.043)</text></g>
<g transform="translate(1255.1 1126.51) rotate(-90)"><text x="0 17.8 26.69 44.48" y="0" font-size="32" xml:space="preserve"> . 5</text><path transform="translate(0 0) scale(0.01562 -0.01562)" d="M763 0 L583 0 L583 1102 L518 1043 L412 983 L314 939 L223 906 L223 1074 L375 1143 L489 1233 L600 1329 L646 1409 L763 1409 Z" fill="#141414"/><path transform="translate(26.69 0) scale(0.01562 -0.01562)" d="M763 0 L583 0 L583 1102 L518 1043 L412 983 L314 939 L223 906 L223 1074 L375 1143 L489 1233 L600 1329 L646 1409 L763 1409 Z" fill="#141414"/></g>
<g transform="translate(1294.06 1142.98) rotate(-90)"><text x="0 9.79 26.14 34.31 50.66 67.01 83.36" y="0" font-size="29.4" xml:space="preserve">(0.045)</text></g>
<g transform="translate(686.66 1197) rotate(-90)"><text x="0 17.8 26.69" y="0" font-size="32" xml:space="preserve">4.7</text></g>
<g transform="translate(723.96 1224.03) rotate(-90)"><text x="0 9.79 26.14 34.31 50.66 67.01 83.36" y="0" font-size="29.4" xml:space="preserve">(0. 85)</text><path transform="translate(34.31 0) scale(0.01436 -0.01436)" d="M763 0 L583 0 L583 1102 L518 1043 L412 983 L314 939 L223 906 L223 1074 L375 1143 L489 1233 L600 1329 L646 1409 L763 1409 Z" fill="#141414"/></g>
</svg>
</body></html>
